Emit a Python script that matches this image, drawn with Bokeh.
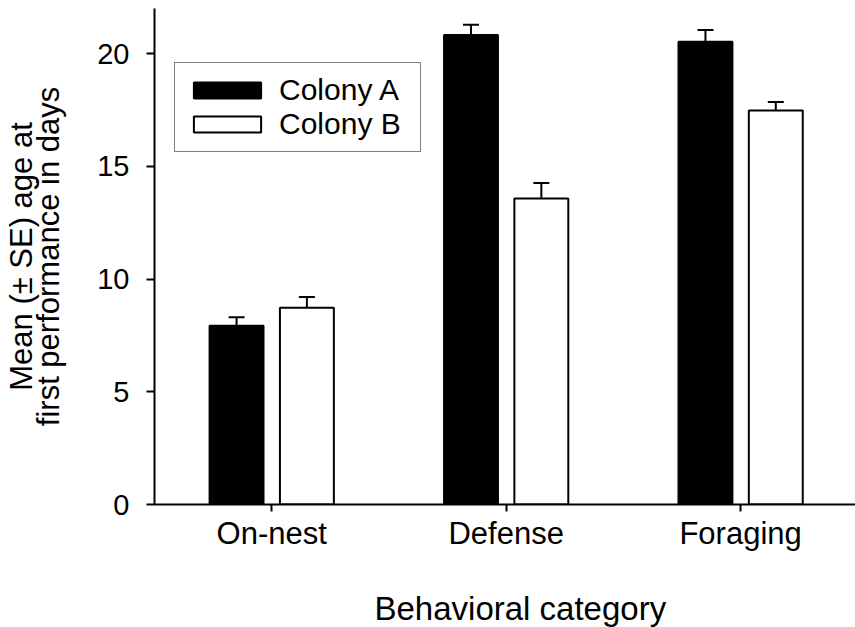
from bokeh.plotting import figure
from bokeh.models import (ColumnDataSource, Range1d, FixedTicker, LinearAxis,
                          CustomJSTickFormatter, Title, Whisker, TeeHead,
                          Legend, LegendItem)
from bokeh.embed import file_html
from bokeh.resources import INLINE

# ---- data ----
categories = ["On-nest", "Defense", "Foraging"]
series_names = ["Colony A", "Colony B"]
colony_a = [7.93, 20.83, 20.53]
colony_a_se = [0.37, 0.45, 0.52]
colony_b = [8.73, 13.57, 17.48]
colony_b_se = [0.47, 0.69, 0.37]
y_ticks = [0, 5, 10, 15, 20]
x_title = "Behavioral category"
y_title_lines = ["Mean (\u00b1 SE) age at", "first performance in days"]

FONT = "Liberation Sans"
pos = list(range(1, len(categories) + 1))
OFF = 0.15
W = 0.23
X0, X1 = 0.5, 3.49

p = figure(width=855, height=627, output_backend="svg", toolbar_location=None,
           x_range=Range1d(X0, X1), y_range=Range1d(0, 22),
           min_border_left=153, min_border_right=0, min_border_top=8,
           min_border_bottom=122)
p.outline_line_color = None
p.grid.visible = False
p.background_fill_color = "white"
p.border_fill_color = "white"

src_a = ColumnDataSource(dict(
    x=[i - OFF for i in pos], top=colony_a,
    upper=[v + e for v, e in zip(colony_a, colony_a_se)]))
src_b = ColumnDataSource(dict(
    x=[i + OFF for i in pos], top=colony_b,
    upper=[v + e for v, e in zip(colony_b, colony_b_se)]))

ra = p.vbar(x="x", top="top", bottom=0, width=W, source=src_a,
            fill_color="black", line_color="black", line_width=2)
rb = p.vbar(x="x", top="top", bottom=0, width=W, source=src_b,
            fill_color="white", line_color="black", line_width=2)

for src in (src_a, src_b):
    wk = Whisker(source=src, base="x", lower="top", upper="upper",
                 dimension="height", line_color="black", line_width=2,
                 upper_head=TeeHead(size=16, line_width=2, line_color="black"),
                 lower_head=None, level="overlay")
    p.add_layout(wk)

legend = Legend(items=[LegendItem(label=series_names[0], renderers=[ra]),
                       LegendItem(label=series_names[1], renderers=[rb])],
                location=(20, 352), glyph_width=84, glyph_height=20,
                label_text_font=FONT, label_text_font_size="30px",
                label_text_color="black",
                label_standoff=10, label_width=131,
                padding=10, spacing=0,
                border_line_color="black", border_line_width=1,
                background_fill_color="white", background_fill_alpha=1,
                margin=0)
p.add_layout(legend)

# x axis
xa = p.xaxis[0]
xa.ticker = FixedTicker(ticks=pos)
xa.major_label_overrides = {i: c for i, c in zip(pos, categories)}
xa.major_tick_out = 7
xa.major_tick_in = 0
xa.minor_tick_line_color = None
xa.axis_line_width = 2
xa.major_tick_line_width = 2
xa.major_label_text_font = FONT
xa.major_label_text_font_size = "31px"
xa.major_label_text_color = "black"
xa.major_label_standoff = 4

# invisible spacer axis between tick labels and the x title
spacer = LinearAxis(ticker=FixedTicker(ticks=[X0]),
                    formatter=CustomJSTickFormatter(code="return ''"),
                    axis_line_color=None, major_tick_line_color="white",
                    minor_tick_line_color=None, major_tick_out=35,
                    major_tick_in=0, minor_tick_out=0, major_label_standoff=0,
                    major_label_text_font_size="1px")
p.add_layout(spacer, "below")
p.add_layout(Title(text=x_title, align="left", offset=220, standoff=0,
                   vertical_align="middle", text_font=FONT,
                   text_font_size="33px", text_font_style="normal",
                   text_color="black"), "below")

# y axis
ya = p.yaxis[0]
ya.ticker = FixedTicker(ticks=y_ticks)
ya.major_tick_out = 8
ya.major_tick_in = 0
ya.minor_tick_line_color = None
ya.axis_line_width = 2
ya.major_tick_line_width = 2
ya.major_label_text_font = FONT
ya.major_label_text_font_size = "29px"
ya.major_label_text_color = "black"
ya.major_label_standoff = 17
ya.axis_label = y_title_lines[1]
ya.axis_label_text_font = FONT
ya.axis_label_text_font_size = "31px"
ya.axis_label_text_font_style = "normal"
ya.axis_label_text_color = "black"
ya.axis_label_standoff = 28

outer = LinearAxis(ticker=FixedTicker(ticks=[]), axis_label=y_title_lines[0],
                   axis_line_color=None, major_tick_line_color=None,
                   minor_tick_line_color=None, major_tick_out=0, major_tick_in=0,
                   major_label_standoff=0, axis_label_standoff=-10,
                   axis_label_text_font=FONT, axis_label_text_font_size="31px",
                   axis_label_text_font_style="normal", axis_label_text_color="black")
p.add_layout(outer, "left")

open("out.html", "w").write(file_html(p, INLINE))
